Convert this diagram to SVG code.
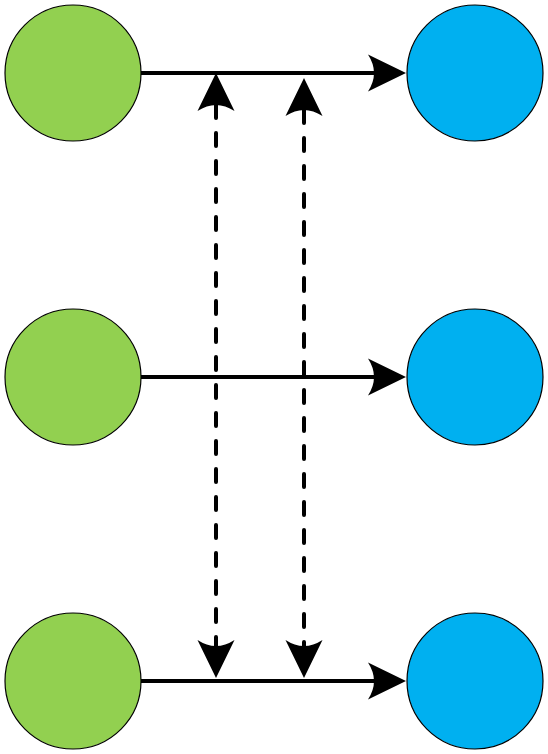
<svg xmlns="http://www.w3.org/2000/svg" width="548" height="754" viewBox="0 0 548 754">
<style>
.g{fill:#92D050;stroke:#000;stroke-width:1.2}
.b{fill:#00B0F0;stroke:#000;stroke-width:1.2}
.s{fill:none;stroke:#000;stroke-width:4}
.d{fill:none;stroke:#000;stroke-width:4;stroke-dasharray:13 15;stroke-linecap:round}
</style>
<defs>
<marker id="ah" markerUnits="userSpaceOnUse" markerWidth="38" markerHeight="37" viewBox="0 0 38 37" refX="6" refY="18.5" orient="auto-start-reverse" overflow="visible">
<path d="M38,18.5 L0,0 Q12,18.5 0,37 Z" fill="#000"/>
</marker>
</defs>
<rect width="548" height="754" fill="#fff"/>
<g id="connectors">
<line class="s" x1="141" y1="73" x2="374" y2="73" marker-end="url(#ah)"/>
<line class="s" x1="141" y1="377" x2="374" y2="377" marker-end="url(#ah)"/>
<line class="s" x1="141" y1="681" x2="374" y2="681" marker-end="url(#ah)"/>
<line class="d" x1="216" y1="105" x2="216" y2="646" marker-start="url(#ah)" marker-end="url(#ah)"/>
<line class="d" x1="304" y1="110" x2="304" y2="646" marker-start="url(#ah)" marker-end="url(#ah)"/>
</g>
<g id="g1"><circle class="g" cx="73" cy="73" r="68"/></g>
<g id="g2"><circle class="g" cx="73" cy="377" r="68"/></g>
<g id="g3"><circle class="g" cx="73" cy="681" r="68"/></g>
<g id="b1"><circle class="b" cx="475" cy="73" r="68"/></g>
<g id="b2"><circle class="b" cx="475" cy="377" r="68"/></g>
<g id="b3"><circle class="b" cx="475" cy="681" r="68"/></g>
</svg>
